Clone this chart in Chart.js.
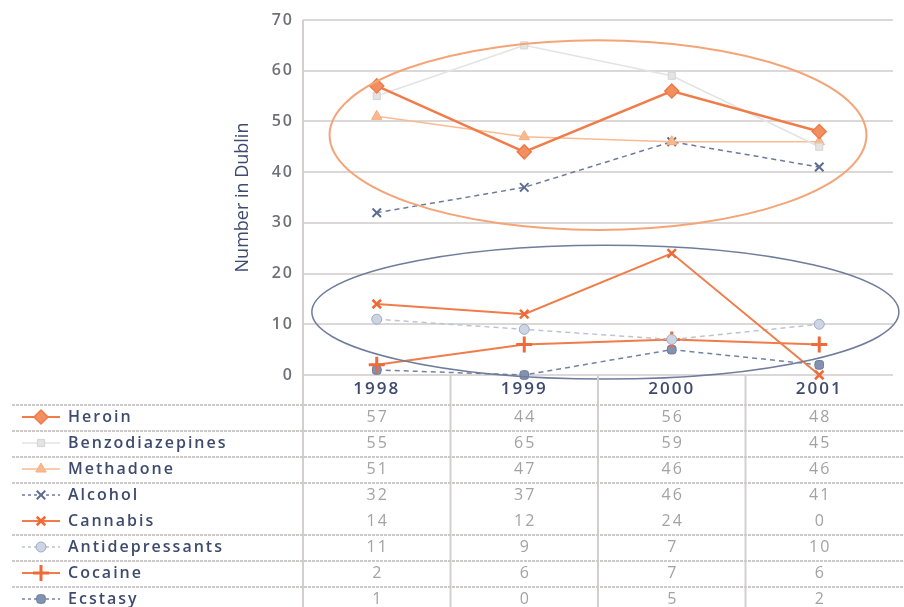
<!DOCTYPE html>
<html>
<head>
<meta charset="utf-8">
<script src="https://cdn.jsdelivr.net/npm/chart.js@4/dist/chart.umd.min.js"></script>
<style>
  html, body { margin: 0; padding: 0; background: #ffffff; overflow: hidden; }
  #wrap { position: relative; width: 904px; height: 607px; }
</style>
</head>
<body>
<div id="wrap"><canvas id="chart" width="904" height="607"></canvas></div>
<script>
// Drug mentions in Dublin, by year
const years = ['1998', '1999', '2000', '2001'];
const heroin = [57, 44, 56, 48];
const benzodiazepines = [55, 65, 59, 45];
const methadone = [51, 47, 46, 46];
const alcohol = [32, 37, 46, 41];
const cannabis = [14, 12, 24, 0];
const antidepressants = [11, 9, 7, 10];
const cocaine = [2, 6, 7, 6];
const ecstasy = [1, 0, 5, 2];
const yAxisTitle = 'Number in Dublin';

// Grouping ellipses, in axis units (category index, value)
const groupRings = [
  { cx: 1.50, cy: 47.3, rx: 1.82, ry: 18.7, color: '#f4a477', width: 2 },
  { cx: 1.55, cy: 12.4, rx: 1.99, ry: 13.2, color: '#6f7c9c', width: 1.5 }
];

const FONT = '"Open Sans", "DejaVu Sans", sans-serif';
const ORANGE = '#f07c4a';
const INK = '#3e4b6e';

function series(label, data, style) {
  return Object.assign({
    label, data,
    tension: 0,
    clip: false,
    fill: false,
    pointHoverRadius: 0
  }, style);
}

const datasets = [
  series('Heroin', heroin, {
    borderColor: ORANGE, borderWidth: 2.5,
    pointStyle: 'rectRot', pointRadius: 7,
    pointBackgroundColor: '#f28f60', pointBorderColor: '#f07a48', pointBorderWidth: 1.5
  }),
  series('Benzodiazepines', benzodiazepines, {
    borderColor: '#e3e3e3', borderWidth: 1.5,
    pointStyle: 'rect', pointRadius: 5,
    pointBackgroundColor: '#e4e4e4', pointBorderColor: '#d4d4d4', pointBorderWidth: 1
  }),
  series('Methadone', methadone, {
    borderColor: '#f8bb94', borderWidth: 1.5,
    pointStyle: 'triangle', pointRadius: 6,
    pointBackgroundColor: '#f9b98f', pointBorderColor: '#f6ad80', pointBorderWidth: 1
  }),
  series('Alcohol', alcohol, {
    borderColor: '#6d7b9b', borderWidth: 1.5, borderDash: [5, 4],
    pointStyle: 'crossRot', pointRadius: 6,
    pointBackgroundColor: '#5d6c90', pointBorderColor: '#5d6c90', pointBorderWidth: 2
  }),
  series('Cannabis', cannabis, {
    borderColor: ORANGE, borderWidth: 2,
    pointStyle: 'crossRot', pointRadius: 6,
    pointBackgroundColor: '#ee6a38', pointBorderColor: '#ee6a38', pointBorderWidth: 2.5
  }),
  series('Antidepressants', antidepressants, {
    borderColor: '#bcc4d4', borderWidth: 1.5, borderDash: [5, 4],
    pointStyle: 'circle', pointRadius: 5,
    pointBackgroundColor: '#cdd5e4', pointBorderColor: '#9eabc4', pointBorderWidth: 1
  }),
  series('Cocaine', cocaine, {
    borderColor: ORANGE, borderWidth: 2,
    pointStyle: 'cross', pointRadius: 8,
    pointBackgroundColor: '#ee6a38', pointBorderColor: '#ee6a38', pointBorderWidth: 3
  }),
  series('Ecstasy', ecstasy, {
    borderColor: '#7482a2', borderWidth: 1.5, borderDash: [5, 4],
    pointStyle: 'rectRounded', pointRadius: 5,
    pointBackgroundColor: '#8492b2', pointBorderColor: '#6d7b9b', pointBorderWidth: 1
  })
];

// Wide tracking for every label on the canvas
const trackingPlugin = {
  id: 'tracking',
  beforeDraw(chart) { chart.ctx.letterSpacing = '2px'; }
};

// Ellipses drawn through the chart's own scales
const ringsPlugin = {
  id: 'rings',
  afterDatasetsDraw(chart) {
    const { ctx, scales: { x, y } } = chart;
    const step = x.getPixelForValue(1) - x.getPixelForValue(0);
    ctx.save();
    groupRings.forEach(r => {
      const cx = x.getPixelForValue(0) + r.cx * step;
      const cy = y.getPixelForValue(r.cy);
      const rx = r.rx * step;
      const ry = Math.abs(y.getPixelForValue(r.cy + r.ry) - cy);
      ctx.beginPath();
      ctx.ellipse(cx, cy, rx, ry, 0, 0, Math.PI * 2);
      ctx.strokeStyle = r.color;
      ctx.lineWidth = r.width;
      ctx.stroke();
    });
    ctx.restore();
  }
};

// Data table under the plot, aligned to the category columns
const tablePlugin = {
  id: 'dataTable',
  afterDraw(chart) {
    const { ctx, chartArea, scales: { x } } = chart;
    const headerBottom = chartArea.bottom + 30;
    const rowH = 26;
    const step = x.getPixelForValue(1) - x.getPixelForValue(0);
    const H = chart.height, W = chart.width;
    ctx.save();

    // vertical axis title
    ctx.save();
    ctx.letterSpacing = '0px';
    ctx.translate(243, (chartArea.top + chartArea.bottom) / 2);
    ctx.rotate(-Math.PI / 2);
    ctx.fillStyle = INK;
    ctx.font = '18px ' + FONT;
    ctx.textAlign = 'center';
    ctx.textBaseline = 'middle';
    ctx.fillText(yAxisTitle, 0, 0);
    ctx.restore();

    // vertical rules: axis line full height, column rules under the plot
    ctx.strokeStyle = '#d3cfcf';
    ctx.lineWidth = 2;
    ctx.beginPath();
    ctx.moveTo(chartArea.left, chartArea.top);
    ctx.lineTo(chartArea.left, H);
    for (let i = 1; i < years.length; i++) {
      const bx = x.getPixelForValue(i) - step / 2;
      ctx.moveTo(bx, chartArea.bottom);
      ctx.lineTo(bx, H);
    }
    ctx.stroke();

    // horizontal rules
    ctx.setLineDash([3, 1]);
    ctx.strokeStyle = '#cdc9c9';
    ctx.lineWidth = 2;
    const ruleYs = [headerBottom];
    datasets.forEach((d, i) => {
      if (i < datasets.length - 1 && d.label !== 'Alcohol') ruleYs.push(headerBottom + (i + 1) * rowH);
    });
    ruleYs.forEach(ry => {
      ctx.beginPath();
      ctx.moveTo(12, ry);
      ctx.lineTo(W, ry);
      ctx.stroke();
    });
    ctx.setLineDash([]);

    // rows
    datasets.forEach((d, i) => {
      const cy = headerBottom + i * rowH + 12;
      // legend key
      ctx.save();
      ctx.strokeStyle = d.borderColor;
      ctx.lineWidth = Math.min(d.borderWidth, 2);
      ctx.setLineDash(d.borderDash ? [3, 3] : []);
      ctx.beginPath();
      ctx.moveTo(22, cy);
      ctx.lineTo(60, cy);
      ctx.stroke();
      ctx.setLineDash([]);
      ctx.fillStyle = d.pointBackgroundColor;
      ctx.strokeStyle = d.pointBorderColor;
      ctx.lineWidth = d.pointBorderWidth;
      Chart.helpers.drawPoint(ctx, {
        pointStyle: d.pointStyle, radius: d.pointRadius, rotation: 0, borderWidth: d.pointBorderWidth
      }, 41, cy);
      ctx.restore();

      // label
      ctx.fillStyle = INK;
      ctx.font = '600 16px ' + FONT;
      ctx.textAlign = 'left';
      ctx.textBaseline = 'middle';
      ctx.fillText(d.label, 68, cy);

      // values
      ctx.fillStyle = '#a3a3a3';
      ctx.font = '500 16px ' + FONT;
      ctx.textAlign = 'center';
      d.data.forEach((v, j) => {
        ctx.fillText(String(v), x.getPixelForValue(j) + 1, cy);
      });
    });
    ctx.restore();
  }
};

new Chart(document.getElementById('chart'), {
  type: 'line',
  data: { labels: years, datasets },
  plugins: [trackingPlugin, ringsPlugin, tablePlugin],
  options: {
    responsive: false,
    animation: false,
    events: [],
    layout: { padding: { top: 20, left: 228, right: 0, bottom: 0 } },
    plugins: { legend: { display: false }, tooltip: { enabled: false } },
    scales: {
      x: {
        type: 'category',
        offset: true,
        grid: { display: false, drawTicks: false },
        border: { display: false },
        ticks: { color: INK, font: { family: FONT, size: 17, weight: '600' }, padding: 4 },
        afterFit(scale) { scale.height = 232; }
      },
      y: {
        min: 0, max: 70,
        grid: { color: '#dcd8d8', lineWidth: 2, drawTicks: false },
        border: { display: false },
        ticks: { stepSize: 10, color: '#6f6f78', font: { family: FONT, size: 16, weight: '600' }, padding: 9 },
        afterFit(scale) { scale.width = 75; }
      }
    }
  }
});
</script>
</body>
</html>
